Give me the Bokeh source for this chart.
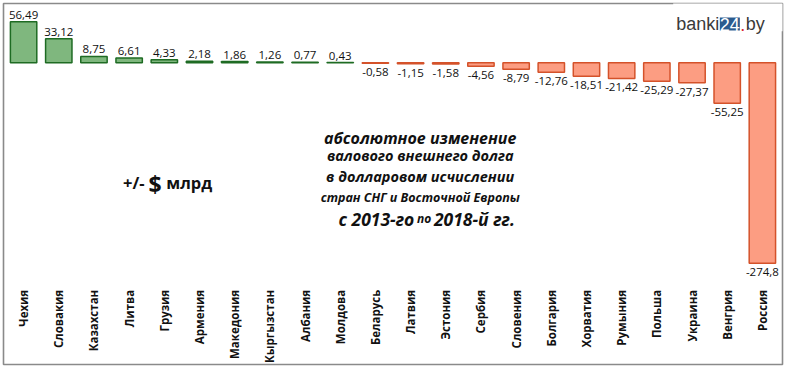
import math
from bokeh.plotting import figure
from bokeh.models import Range1d, ColumnDataSource, BoxAnnotation, Label
from bokeh.core.properties import value
from bokeh.embed import file_html
from bokeh.resources import INLINE

# ---- data -------------------------------------------------------------
countries = ["Чехия", "Словакия", "Казахстан", "Литва", "Грузия", "Армения",
             "Македония", "Кыргызстан", "Албания", "Молдова", "Беларусь",
             "Латвия", "Эстония", "Сербия", "Словения", "Болгария", "Хорватия",
             "Румыния", "Польша", "Украина", "Венгрия", "Россия"]
changes = [56.49, 33.12, 8.75, 6.61, 4.33, 2.18, 1.86, 1.26, 0.77, 0.43,
           -0.58, -1.15, -1.58, -4.56, -8.79, -12.76, -18.51, -21.42,
           -25.29, -27.37, -55.25, -274.8]
value_labels = [str(v).replace(".", ",") for v in changes]

title_lines = ["абсолютное изменение", "валового внешнего долга",
               "в долларовом исчислении", "стран СНГ и Восточной Европы"]
title_last = ["с 2013-го", "по", "2018-й гг."]
unit_parts = ["+/-", "$", "млрд"]

# ---- layout ------------------------------------------------------------
FW, FH = 786, 367           # figure size (fits the 802x383 window)
ML, MT, MR, MB = 3, 3, 4, 3  # frame == bordered chart area
REF_L, REF_R, REF_T, REF_B = 3.0, 797.5, 3.0, 380.0   # reference border
REF_X0, REF_DX = 23.5, 35.88   # reference px of first category, spacing
REF_Y0, REF_PXU = 65.0, 0.7617  # reference px of zero line, px per unit


def RX(xr):
    """reference pixel x -> category index units"""
    return (xr - REF_X0) / REF_DX


def RY(yr):
    """reference pixel y -> value units"""
    return (REF_Y0 - yr) / REF_PXU


POS_FILL, POS_LINE = "#7FB77E", "#1E6B23"
NEG_FILL, NEG_LINE = "#FC9D82", "#D4522A"
TXT = "#111111"
FONT = value("Open Sans")

p = figure(width=FW, height=FH,
           x_range=Range1d(RX(REF_L), RX(REF_R)),
           y_range=Range1d(RY(REF_B), RY(REF_T)),
           output_backend="svg", toolbar_location=None,
           x_axis_location=None, y_axis_location=None,
           min_border_left=ML, min_border_top=MT,
           min_border_right=MR, min_border_bottom=MB)
p.grid.visible = False
p.background_fill_color = "white"
p.border_fill_color = "white"
p.outline_line_color = "#8a8a8a"
p.outline_line_width = 1.6

idx = list(range(len(countries)))

# bars
src = ColumnDataSource(dict(
    i=idx, change=changes,
    fill=[POS_FILL if v >= 0 else NEG_FILL for v in changes],
    line=[POS_LINE if v >= 0 else NEG_LINE for v in changes]))
p.vbar(x="i", top="change", bottom=0, width=0.75, source=src,
       fill_color="fill", line_color="line", line_width=1.5)

pos_src = ColumnDataSource(dict(
    i=[i for i, v in zip(idx, changes) if v >= 0],
    change=[v for v in changes if v >= 0],
    label=[l for l, v in zip(value_labels, changes) if v >= 0]))
neg_src = ColumnDataSource(dict(
    i=[i for i, v in zip(idx, changes) if v < 0],
    change=[v for v in changes if v < 0],
    label=[l for l, v in zip(value_labels, changes) if v < 0]))

p.text(x="i", y="change", text="label", source=pos_src,
       text_font=FONT, text_font_size="11.5px", text_color=TXT,
       text_align="center", text_baseline="bottom", y_offset=-3)
p.text(x="i", y="change", text="label", source=neg_src,
       text_font=FONT, text_font_size="11.5px", text_color=TXT,
       text_align="center", text_baseline="top", y_offset=5)

# category labels (rotated)
cat_src = ColumnDataSource(dict(i=idx, country=countries,
                                y=[RY(302)] * len(countries)))
p.text(x="i", y="y", text="country", source=cat_src, angle=math.pi / 2,
       text_font=FONT, text_font_size="11.5px", text_font_style="bold",
       text_color=TXT, text_align="right", text_baseline="middle")

# unit caption
p.text(x=[RX(125)], y=[RY(190)], text=[unit_parts[0]], text_font=FONT,
       text_font_size="16.5px", text_font_style="bold", text_color=TXT,
       text_align="left", text_baseline="alphabetic")
p.text(x=[RX(151)], y=[RY(191)], text=[unit_parts[1]], text_font=FONT,
       text_font_size="23px", text_font_style="bold", text_color=TXT,
       text_align="left", text_baseline="alphabetic")
p.text(x=[RX(169)], y=[RY(190)], text=[unit_parts[2]], text_font=FONT,
       text_font_size="16.5px", text_font_style="bold", text_color=TXT,
       text_align="left", text_baseline="alphabetic")

# title block
CX = 428
title_sizes = ["16px", "14.5px", "14.5px", "12.5px"]
title_base = [143, 162, 184, 206]
for t, s, b in zip(title_lines, title_sizes, title_base):
    p.text(x=[RX(CX)], y=[RY(b)], text=[t], text_font=FONT,
           text_font_size=s, text_font_style="bold italic",
           text_color=TXT, text_align="center", text_baseline="alphabetic")
p.text(x=[RX(422)], y=[RY(228)], text=[title_last[0]], text_font=FONT,
       text_font_size="17.5px", text_font_style="bold italic",
       text_color=TXT, text_align="right", text_baseline="alphabetic")
p.text(x=[RX(432)], y=[RY(228)], text=[title_last[1]], text_font=FONT,
       text_font_size="12px", text_font_style="bold italic",
       text_color=TXT, text_align="center", text_baseline="alphabetic")
p.text(x=[RX(442)], y=[RY(228)], text=[title_last[2]], text_font=FONT,
       text_font_size="17.5px", text_font_style="bold italic",
       text_color=TXT, text_align="left", text_baseline="alphabetic")

# logo (covers the border corner)
p.add_layout(BoxAnnotation(left=RX(686), right=RX(815), top=RY(-10),
                           bottom=RY(32), fill_color="white", fill_alpha=1.0,
                           line_color=None, level="overlay"))
logo = [("banki", 733, "right", "#3a3a3a", None),
        ("24", 743.8, "center", "white", "#2B5B8E"),
        (".", 754.5, "left", "#D8232A", None),
        ("by", 760, "left", "#3a3a3a", None)]
for txt, xr, al, col, bg in logo:
    p.add_layout(Label(x=RX(xr), y=RY(24.5), text=txt, text_align=al,
                       text_baseline="alphabetic", text_font="Liberation Sans",
                       text_font_size="18px", text_color=col,
                       background_fill_color=bg, background_fill_alpha=1.0,
                       level="overlay"))

open("out.html", "w").write(file_html(p, INLINE))
